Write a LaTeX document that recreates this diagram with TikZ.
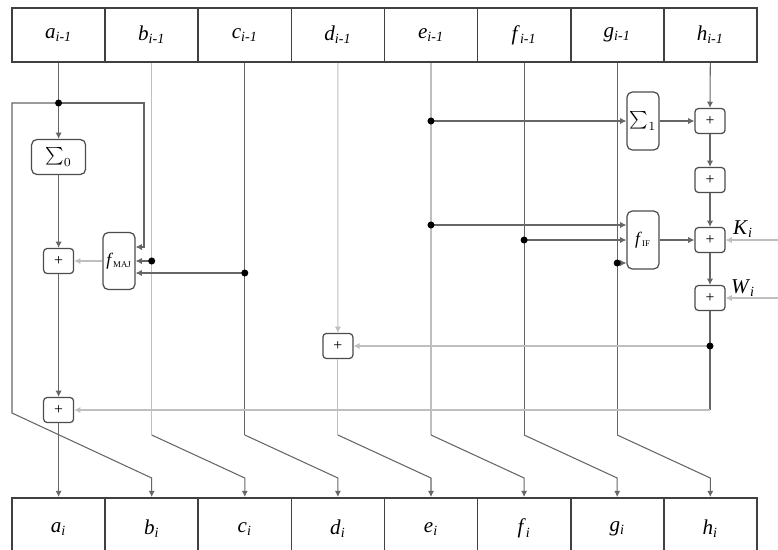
\documentclass[tikz,border=0pt]{standalone}
\usepackage{fontspec}
\setmainfont{Liberation Serif}
\usetikzlibrary{arrows.meta}

\newcommand{\rg}[2]{\textit{#1}\textsubscript{\textit{#2}}}

\tikzset{
  reg/.style={draw=black!75, line width=0.9pt, minimum width=1.86cm, inner sep=0pt, font=\fontsize{12}{14}\selectfont},
  adder/.style={draw=black!70, line width=0.7pt, rounded corners=2pt, minimum width=0.6cm, minimum height=0.5cm, inner sep=0pt, font=\small},
  func/.style={draw=black!70, line width=0.7pt, rounded corners=3pt, inner sep=0pt},
  wire/.style={draw=black!60, line width=0.6pt},
  faint/.style={draw=black!25, line width=0.6pt},
}

\begin{document}
\begin{tikzpicture}[x=0.02cm, y=-0.02cm, >={Latex[length=3.5pt,width=3.5pt]}]
  \clip (0,0) rectangle (778,549);
  \fill[white] (0,0) rectangle (778,549);

  % registers before and after the round
  \foreach \r [count=\k from 0] in {a,b,c,d,e,f,g,h} {
    \node[reg, minimum height=1.08cm] (\r0) at (58.6+93.1*\k,35) {\rg{\r}{i-1}};
    \node[reg, minimum height=1.24cm, anchor=north] (\r1) at (58.6+93.1*\k,497) {\rg{\r}{i}};
  }

  % round functions and adders
  \node[func, minimum width=1.08cm, minimum height=0.7cm] (sig0) at (58.6,157) {$\sum_0$};
  \node[func, minimum width=0.64cm, minimum height=1.14cm] (maj) at (119,261) {\textit{f}\textsubscript{\tiny MAJ}};
  \node[adder] (addA) at (58.6,261) {+};
  \node[adder] (addT) at (58.6,410) {+};
  \node[adder] (addD) at (337.9,346) {+};
  \node[func, minimum width=0.64cm, minimum height=1.16cm] (sig1) at (643,121) {$\sum_1$};
  \node[func, minimum width=0.64cm, minimum height=1.16cm] (fif) at (643,240) {\textit{f}\textsubscript{\tiny IF}};
  \node[adder] (addH1) at (710,121) {+};
  \node[adder] (addH2) at (710,180) {+};
  \node[adder] (addH3) at (710,240) {+};
  \node[adder] (addH4) at (710,298) {+};
  \node[font=\fontsize{12}{14}\selectfont] (klab) at (743,229) {\rg{K}{i}};
  \node[font=\fontsize{12}{14}\selectfont] (wlab) at (743,288) {\rg{W}{i}};

  % junctions
  \coordinate (ja) at (58.6,103);
  \coordinate (mi1) at (maj.east |- 0,247);
  \coordinate (mi3) at (maj.east |- 0,273);
  \coordinate (jb) at (b0.south |- maj.east);
  \coordinate (jc) at (c0.south |- mi3);
  \coordinate (fi1) at (fif.west |- 0,225);
  \coordinate (fi3) at (fif.west |- 0,263);
  \coordinate (je1) at (e0.south |- sig1.west);
  \coordinate (je2) at (e0.south |- fi1);
  \coordinate (jf) at (f0.south |- fif.west);
  \coordinate (jg) at (g0.south |- fi3);
  \coordinate (jt) at (addH4.south |- addD.east);
  \coordinate (kin) at (addH3.east -| 778,0);
  \coordinate (win) at (addH4.east -| 778,0);

  % a column
  \draw[wire] (a0.south) -- (ja);
  \draw[wire,->] (ja) -- (sig0.north);
  \draw[wire,->] (sig0.south) -- (addA.north);
  \draw[wire,->] (addA.south) -- (addT.north);
  \draw[wire,->] (addT.south) -- (a1.north);
  \draw[wire,->] (ja) -| (12,413) -- (b1.north |- 0,478) -- (b1.north);
  \draw[wire,->] (ja) -| (mi1 -| 144,0) -- (mi1);
  \draw[faint,->] (maj.west) -- (addA.east);

  % b, c, d, e, f, g columns shifted down one place
  \draw[faint] (b0.south) -- (b0.south |- 0,435);
  \draw[wire] (c0.south) -- (c0.south |- 0,435);
  \draw[faint,->] (d0.south) -- (addD.north);
  \draw[faint] (addD.south) -- (addD.south |- 0,435);
  \draw[faint] (e0.south) -- (e0.south |- 0,435);
  \draw[wire] (f0.south) -- (f0.south |- 0,435);
  \draw[wire] (g0.south) -- (g0.south |- 0,435);
  \foreach \s/\t in {b/c, c/d, d/e, e/f, f/g, g/h}
    \draw[wire,->] (\s0.south |- 0,435) -- (\t1.north |- 0,478) -- (\t1.north);

  \draw[wire,->] (jb) -- (maj.east);
  \draw[wire,->] (jc) -- (mi3);
  \draw[wire,->] (je1) -- (sig1.west);
  \draw[wire,->] (je2) -- (fi1);
  \draw[wire,->] (jf) -- (fif.west);
  \draw[wire,->] (jg) -- (fi3);

  % h column
  \draw[wire,->] (h0.south) -- (addH1.north);
  \draw[wire,->] (sig1.east) -- (addH1.west);
  \draw[wire,->] (addH1.south) -- (addH2.north);
  \draw[wire,->] (addH2.south) -- (addH3.north);
  \draw[wire,->] (fif.east) -- (addH3.west);
  \draw[faint,->] (kin) -- (addH3.east);
  \draw[wire,->] (addH3.south) -- (addH4.north);
  \draw[faint,->] (win) -- (addH4.east);
  \draw[wire] (addH4.south) -- (jt) -- (jt |- addT.east);
  \draw[faint,->] (jt) -- (addD.east);
  \draw[faint,->] (jt |- addT.east) -- (addT.east);

  \foreach \j in {ja,jb,jc,je1,je2,jf,jg,jt}
    \fill (\j) circle (2pt);
\end{tikzpicture}
\end{document}
